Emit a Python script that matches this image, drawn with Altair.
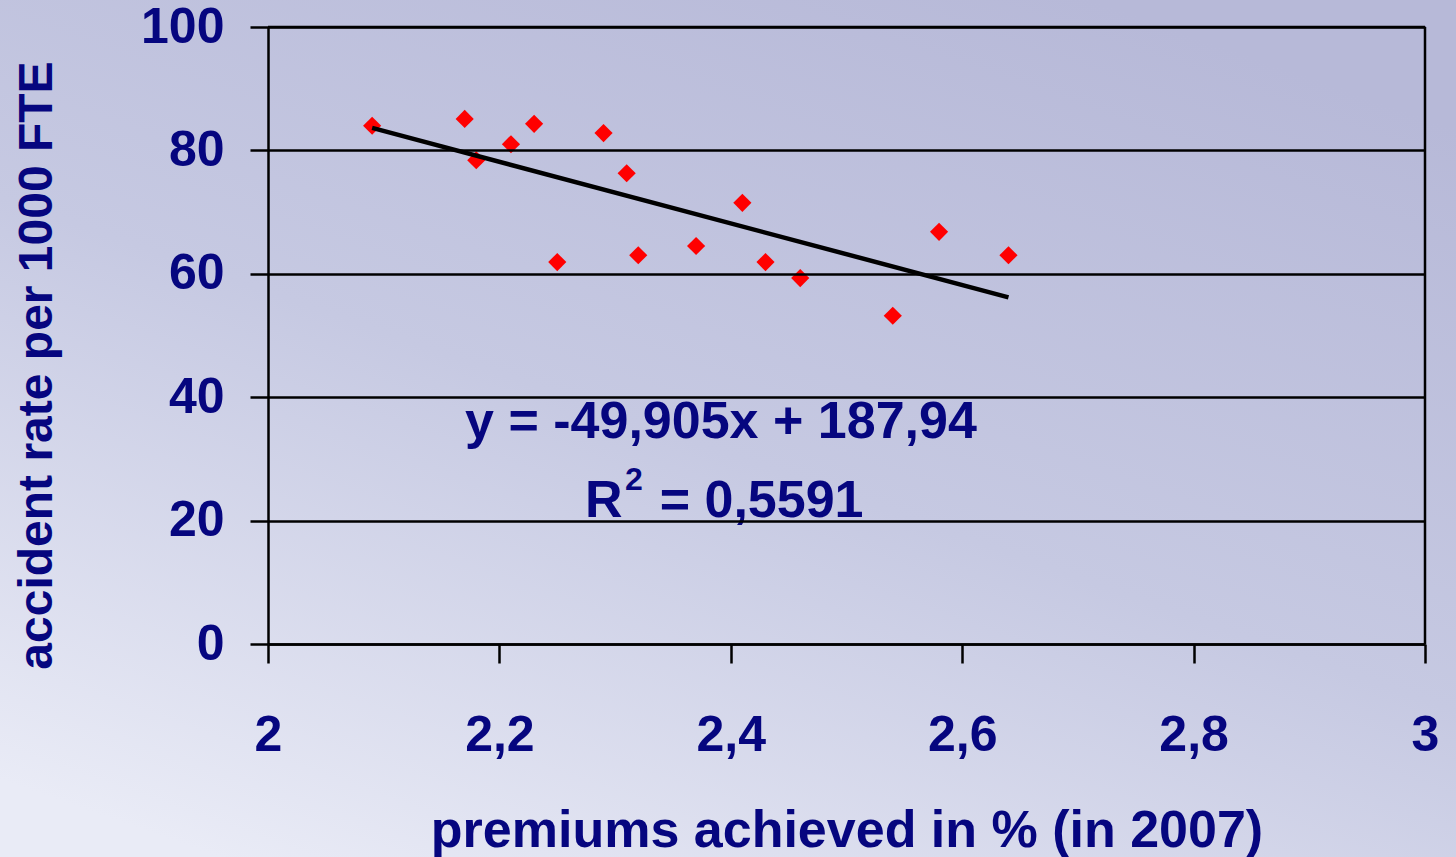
import altair as alt
import pandas as pd

# ---- data ----
premiums = [2.09, 2.17, 2.18, 2.21, 2.23, 2.25, 2.29, 2.31, 2.32, 2.37, 2.41, 2.43, 2.46, 2.54, 2.58, 2.64]
accident = [84.0, 85.1, 78.4, 81.0, 84.3, 61.9, 82.8, 76.3, 63.0, 64.5, 71.5, 61.9, 59.3, 53.2, 66.8, 63.0]

slope = -49.905
intercept = 187.94
trend_x = [min(premiums), max(premiums)]

x_ticks = [2, 2.2, 2.4, 2.6, 2.8, 3]
y_ticks = [0, 20, 40, 60, 80, 100]

NAVY = "#06067f"
FONT = "Liberation Sans"

pts = pd.DataFrame({"x": premiums, "y": accident})
trend = pd.DataFrame({"x": trend_x, "y": [slope * v + intercept for v in trend_x]})

xscale = alt.Scale(domain=[2, 3], nice=False, zero=False)
yscale = alt.Scale(domain=[0, 100], nice=False)

xaxis = alt.Axis(
    values=x_ticks, format=".1~f", labelExpr="replace(datum.label, '.', ',')",
    grid=False, domainColor="black", domainWidth=2.5, tickColor="black", tickWidth=2.5,
    tickSize=19, labelPadding=47, labelFontSize=50, labelFont=FONT, labelFontWeight="bold",
    labelColor=NAVY, title="premiums achieved in % (in 2007)", titleFont=FONT,
    titleFontSize=52, titleFontWeight="bold", titleColor=NAVY, titleBaseline="alphabetic",
    titleY=202, labelFlush=False, zindex=1,
)
yaxis = alt.Axis(
    values=y_ticks, grid=True, gridColor="black", gridWidth=2.5, domainColor="black",
    domainWidth=2.5, tickColor="black", tickWidth=2.5, tickSize=18, labelPadding=26,
    labelFontSize=50, labelFont=FONT, labelFontWeight="bold", labelColor=NAVY,
    title="accident rate per 1000 FTE", titleFont=FONT, titleFontSize=48,
    titleFontWeight="bold", titleColor=NAVY, titleAngle=270, titleAlign="center",
    titleBaseline="alphabetic", titleX=-217, titleY=338, labelFlush=False, zindex=1,
)

bg = alt.Chart(alt.Data(values=[{}])).mark_rect(
    fill=alt.Gradient(
        gradient="linear",
        stops=[
            alt.GradientStop(color="#b7b9d8", offset=0),
            alt.GradientStop(color="#c6c9e2", offset=0.5),
            alt.GradientStop(color="#e9ebf6", offset=1),
        ],
        x1=0.75, y1=0, x2=0.15, y2=1,
    )
).encode(x=alt.value(-268), x2=alt.value(1188), y=alt.value(-27), y2=alt.value(830))

frame_right = alt.Chart(alt.Data(values=[{}])).mark_rule(color="black", strokeWidth=2.5).encode(
    x=alt.datum(3, scale=xscale)
)
frame_top = alt.Chart(alt.Data(values=[{}])).mark_rule(color="black", strokeWidth=2.5).encode(
    y=alt.datum(100, scale=yscale)
)

points = alt.Chart(pts).mark_point(
    shape="diamond", filled=True, color="#ff0000", size=330, opacity=1
).encode(
    x=alt.X("x:Q", scale=xscale, axis=xaxis),
    y=alt.Y("y:Q", scale=yscale, axis=yaxis),
)

line = alt.Chart(trend).mark_line(color="black", strokeWidth=4.5).encode(
    x=alt.X("x:Q", scale=xscale), y=alt.Y("y:Q", scale=yscale)
)

ann = pd.DataFrame({
    "x": [2.3915, 2.274, 2.3085, 2.3385],
    "y": [33.4, 20.6, 25.0, 20.6],
    "t": ["y = -49,905x + 187,94", "R", "2", "= 0,5591"],
    "s": [52, 52, 32, 52],
    "a": ["center", "left", "left", "left"],
})

def text_layer(i):
    row = ann.iloc[[i]]
    return alt.Chart(row).mark_text(
        font=FONT, fontWeight="bold", color=NAVY, fontSize=int(row["s"].iloc[0]),
        align=row["a"].iloc[0], baseline="alphabetic"
    ).encode(
        x=alt.X("x:Q", scale=xscale), y=alt.Y("y:Q", scale=yscale), text="t:N"
    )

texts = [text_layer(i) for i in range(len(ann))]

chart = alt.layer(bg, points, frame_right, frame_top, line, *texts).properties(
    width=1157, height=617,
    autosize=alt.AutoSizeParams(type="none"),
    padding={"left": 268, "top": 27, "right": 31, "bottom": 213},
    background="#c6c9e2",
).configure_view(stroke="black", strokeWidth=2)

chart.save("out.html", embed_options={"renderer": "svg", "actions": False})
